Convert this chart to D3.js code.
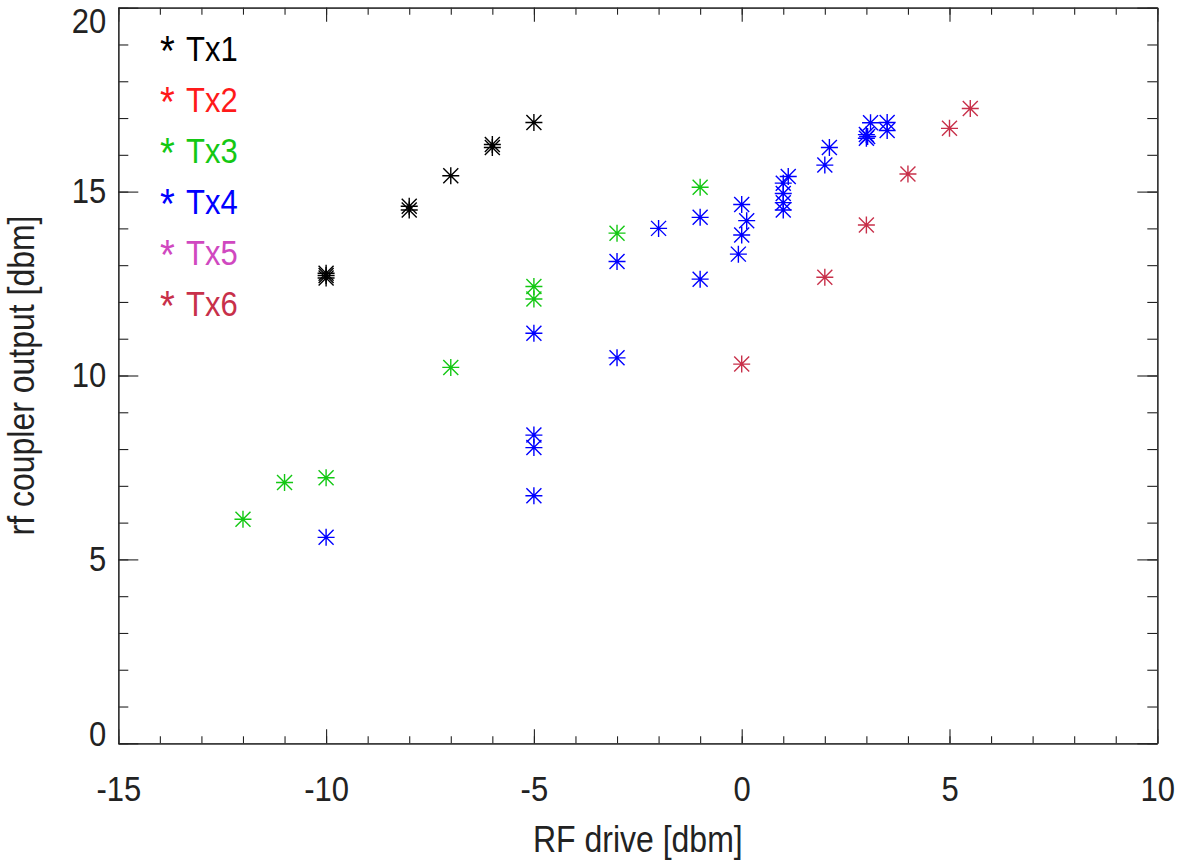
<!DOCTYPE html>
<html>
<head>
<meta charset="utf-8">
<script src="https://cdn.jsdelivr.net/npm/d3@7"></script>
<style>
  body { margin: 0; background: #fff; }
  text { font-family: "Liberation Sans", Helvetica, Arial, sans-serif; fill: #222; }
</style>
</head>
<body>
<div id="chart"></div>
<script>
// values: [RF drive, coupler output]
const tx1 = [[-10, 12.65], [-10, 12.72], [-10, 12.78], [-8, 14.5], [-8, 14.6], [-7, 15.43],
             [-6, 16.2], [-6, 16.28], [-5, 16.88]];
const tx2 = [];
const tx3 = [[-12, 6.09], [-11, 7.09], [-10, 7.22], [-7, 10.22], [-5, 12.42], [-5, 12.08],
             [-3, 13.87], [-1, 15.12]];
const tx4 = [[-10, 5.6], [-5, 11.15], [-5, 8.38], [-5, 8.04], [-5, 6.73], [-3, 13.1], [-3, 10.48],
             [-2, 14.0], [-1, 14.3], [-1, 12.62], [0, 14.65], [0.12, 14.21], [0, 13.82], [-0.08, 13.3],
             [1, 15.23], [1.12, 15.41], [1, 14.95], [1, 14.7], [1, 14.5], [2, 15.72], [2.11, 16.2],
             [3, 16.45], [3, 16.55], [3.03, 16.5], [3.1, 16.87], [3.5, 16.88], [3.5, 16.66]];
const tx5 = [];
const tx6 = [[0, 10.31], [2, 12.67], [3, 14.09], [4, 15.48], [5, 16.72], [5.5, 17.26]];

const seriesNames = ["Tx1", "Tx2", "Tx3", "Tx4", "Tx5", "Tx6"];
const seriesData = [tx1, tx2, tx3, tx4, tx5, tx6];
const seriesColors = ["#000000", "#ff1a1a", "#14c814", "#0000ff", "#d048c0", "#c8304a"];

const xMajor = [-15, -10, -5, 0, 5, 10];
const yMajor = [0, 5, 10, 15, 20];

const W = 1188, H = 861;
const stretch = 1.13; // glyphs in the picture are a bit taller than wide

const svg = d3.select("#chart")
  .append("svg")
    .attr("width", W)
    .attr("height", H);

const x = d3.scaleLinear().domain([-15, 10]).range([118.3, 1157.3]);
const y = d3.scaleLinear().domain([0, 20]).range([743.3, 7.7]);

// plain hyphen for negatives, like the original
const fmt = d => String(d);

function styleAxis(g) {
  g.selectAll("path.domain").attr("stroke", "#333").attr("stroke-width", 1.3);
  g.selectAll(".tick line").attr("stroke", "#222").attr("stroke-width", 1.1);
}

// minor ticks
[
  [d3.axisBottom(x).tickValues(d3.range(-15, 11)).tickSize(-7), `translate(0,${y(0)})`],
  [d3.axisTop(x).tickValues(d3.range(-15, 11)).tickSize(-7), `translate(0,${y(20)})`],
  [d3.axisLeft(y).tickValues(d3.range(0, 21)).tickSize(-10), `translate(${x(-15)},0)`],
  [d3.axisRight(y).tickValues(d3.range(0, 21)).tickSize(-10), `translate(${x(10)},0)`]
].forEach(([ax, tr]) => {
  svg.append("g")
    .attr("transform", tr)
    .call(ax.tickSizeOuter(0).tickFormat(""))
    .call(styleAxis);
});

// major ticks with labels
const xAxis = svg.append("g")
  .attr("transform", `translate(0,${y(0)})`)
  .call(d3.axisBottom(x).tickValues(xMajor).tickSize(-14).tickSizeOuter(0).tickFormat(fmt))
  .call(styleAxis);

xAxis.selectAll(".tick text")
  .attr("y", null).attr("dy", null)
  .attr("font-size", 31)
  .attr("transform", `translate(0,57.7) scale(1,${stretch})`);

svg.append("g")
  .attr("transform", `translate(0,${y(20)})`)
  .call(d3.axisTop(x).tickValues(xMajor).tickSize(-14).tickSizeOuter(0).tickFormat(""))
  .call(styleAxis);

const yAxis = svg.append("g")
  .attr("transform", `translate(${x(-15)},0)`)
  .call(d3.axisLeft(y).tickValues(yMajor).tickSize(-20).tickSizeOuter(0).tickFormat(fmt))
  .call(styleAxis);

yAxis.selectAll(".tick text")
  .attr("x", null).attr("dy", null)
  .attr("font-size", 31)
  .attr("transform", d => {
    const off = d === 20 ? 25 : d === 0 ? 2 : 11;
    return `translate(-12,${off}) scale(1,${stretch})`;
  });

svg.append("g")
  .attr("transform", `translate(${x(10)},0)`)
  .call(d3.axisRight(y).tickValues(yMajor).tickSize(-20).tickSizeOuter(0).tickFormat(""))
  .call(styleAxis);

// axis titles
svg.append("text")
  .attr("transform", `translate(${(x(-15) + x(10)) / 2},852) scale(1,${stretch})`)
  .attr("text-anchor", "middle")
  .attr("font-size", 32)
  .text("RF drive [dbm]");

svg.append("text")
  .attr("transform", `translate(34,${(y(0) + y(20)) / 2}) rotate(-90) scale(1,${stretch})`)
  .attr("text-anchor", "middle")
  .attr("font-size", 32)
  .text("rf coupler output [dbm]");

// asterisk symbol
const r = 8.5, rd = 7.5;
const starPath = `M${-r},0L${r},0M0,${-r}L0,${r}M${-rd},${-rd}L${rd},${rd}M${-rd},${rd}L${rd},${-rd}`;

seriesData.forEach((pts, i) => {
  svg.append("g")
    .selectAll("path")
    .data(pts)
    .join("path")
      .attr("transform", d => `translate(${x(d[0])},${y(d[1])})`)
      .attr("d", starPath)
      .attr("fill", "none")
      .attr("stroke", seriesColors[i])
      .attr("stroke-width", 1.4);
});

// legend
const legend = svg.append("g")
  .selectAll("g")
  .data(seriesNames)
  .join("g")
    .attr("transform", (d, i) => `translate(0,${61 + i * 51})`);

legend.append("text")
  .attr("transform", `translate(160,4) scale(1,${stretch})`)
  .attr("font-size", 38)
  .style("fill", (d, i) => seriesColors[i])
  .text("*");

legend.append("text")
  .attr("transform", `translate(186,0) scale(1,${stretch})`)
  .attr("font-size", 31)
  .style("fill", (d, i) => seriesColors[i])
  .text(d => d);
</script>
</body>
</html>
